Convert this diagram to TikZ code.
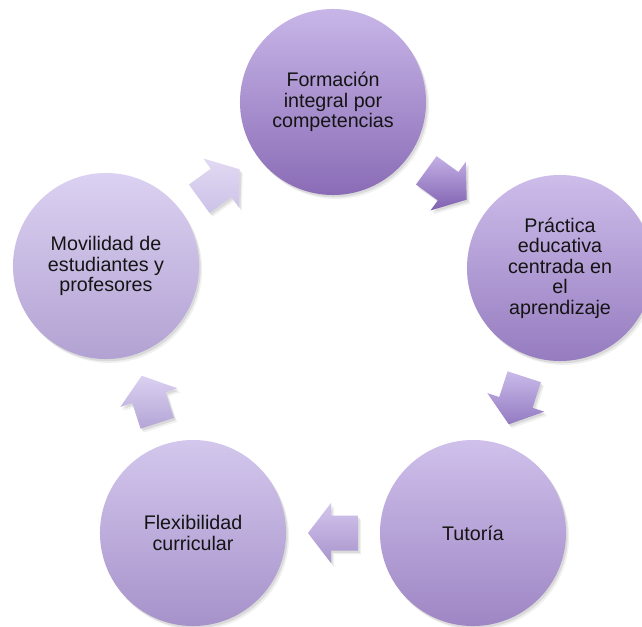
\documentclass[tikz,border=0pt]{standalone}
\usepackage{fontspec}
\setmainfont{Liberation Sans}
\usetikzlibrary{calc}
\definecolor{c1t}{RGB}{200,182,232}\definecolor{c1b}{RGB}{138,108,182}
\definecolor{c2t}{RGB}{205,189,234}\definecolor{c2b}{RGB}{150,124,192}
\definecolor{c3t}{RGB}{207,192,235}\definecolor{c3b}{RGB}{158,134,196}
\definecolor{c4t}{RGB}{211,199,237}\definecolor{c4b}{RGB}{166,146,202}
\definecolor{c5t}{RGB}{219,209,241}\definecolor{c5b}{RGB}{178,162,211}
\definecolor{a1t}{RGB}{196,176,229}\definecolor{a1b}{RGB}{126,96,176}
\definecolor{a2t}{RGB}{201,186,233}\definecolor{a2b}{RGB}{148,123,194}
\definecolor{a3t}{RGB}{211,197,238}\definecolor{a3b}{RGB}{168,148,204}
\definecolor{a4t}{RGB}{219,209,241}\definecolor{a4b}{RGB}{180,165,214}
\definecolor{a5t}{RGB}{226,217,243}\definecolor{a5b}{RGB}{204,194,232}
\begin{document}
\begin{tikzpicture}[x=0.025cm,y=-0.025cm,
  softshadow/.style={
    preaction={fill=black,opacity=0.06,transform canvas={xshift=2.2pt,yshift=-2.8pt}},
    preaction={fill=black,opacity=0.09,transform canvas={xshift=1.2pt,yshift=-1.6pt}}},
  bubble/.style={circle, minimum size=4.65cm, inner sep=0pt, align=center,
    font=\fontsize{14pt}{14.6pt}\selectfont, text=black!92, softshadow},
  blockarrow/.style={softshadow}]
\useasboundingbox (0,0) rectangle (642,626);
\clip (0,0) rectangle (642,626);
\fill[white] (0,0) rectangle (642,626);

\node[bubble, top color=c1t, bottom color=c1b] (c1) at (333,102) {Formación\\integral por\\competencias};
\node[bubble, top color=c2t, bottom color=c2b] (c2) at (560,268) {Práctica\\educativa\\centrada en\\el\\aprendizaje};
\node[bubble, top color=c3t, bottom color=c3b] (c3) at (473,533) {Tutoría};
\node[bubble, top color=c4t, bottom color=c4b] (c4) at (193,533) {Flexibilidad\\curricular};
\node[bubble, top color=c5t, bottom color=c5b] (c5) at (106,266) {Movilidad de\\estudiantes y\\profesores};

\foreach \a/\b/\ang/\ct/\cb in {c1/c2/-36/a1t/a1b, c2/c3/-108/a2t/a2b, c3/c4/180/a3t/a3b, c4/c5/108/a4t/a4b, c5/c1/36/a5t/a5b}{
  \begin{scope}[shift={($(\a)!0.5!(\b)$)}, rotate=\ang]
    \shade[blockarrow, top color=\ct, bottom color=\cb]
      (-25,-17.5) -- (2,-17.5) -- (2,-30) -- (25,0) -- (2,30) -- (2,17.5) -- (-25,17.5) -- cycle;
  \end{scope}
}
\end{tikzpicture}
\end{document}
